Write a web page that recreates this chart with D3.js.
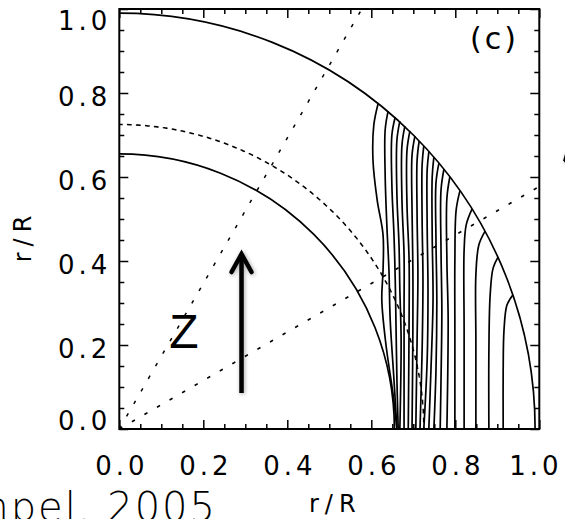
<!DOCTYPE html>
<html><head><meta charset="utf-8">
<script src="https://cdn.jsdelivr.net/npm/d3@7"></script>
<style>html,body{margin:0;padding:0;background:#fff;overflow:hidden}svg{display:block}</style>
</head><body>
<script>
// ---- data ----
const majorTicks = [0, 0.2, 0.4, 0.6, 0.8, 1.0];
const tickLabels = ["0.0", "0.2", "0.4", "0.6", "0.8", "1.0"];
const minorTicks = [0.05,0.1,0.15,0.25,0.3,0.35,0.45,0.5,0.55,0.65,0.7,0.75,0.85,0.9,0.95];
const solidRadii = [0.655, 0.99];
const dashedRadii = [0.725];
const rayAnglesDeg = [30, 60];
const contour01 = [[0.616,0.774],[0.606,0.724],[0.604,0.640],[0.614,0.545],[0.628,0.462],[0.628,0.379],[0.625,0.307],[0.635,0.200],[0.652,0.081],[0.661,0]];
const contour02 = [[0.640,0.757],[0.633,0.712],[0.633,0.605],[0.637,0.486],[0.642,0.379],[0.645,0.260],[0.654,0.117],[0.661,0]];
const contour03 = [[0.657,0.743],[0.649,0.700],[0.649,0.581],[0.654,0.462],[0.657,0.355],[0.659,0.236],[0.661,0.117],[0.664,0]];
const contour04 = [[0.668,0.733],[0.661,0.688],[0.661,0.557],[0.666,0.438],[0.668,0.331],[0.671,0.212],[0.668,0]];
const contour05 = [[0.680,0.721],[0.673,0.676],[0.673,0.545],[0.678,0.414],[0.678,0.283],[0.678,0]];
const contour06 = [[0.692,0.710],[0.685,0.664],[0.685,0.533],[0.690,0.402],[0.690,0.260],[0.688,0]];
const contour07 = [[0.704,0.698],[0.697,0.652],[0.697,0.521],[0.699,0.379],[0.699,0.236],[0.697,0]];
const contour08 = [[0.714,0.686],[0.709,0.640],[0.709,0.510],[0.711,0.367],[0.709,0.212],[0.706,0]];
const contour09 = [[0.725,0.674],[0.721,0.629],[0.721,0.498],[0.723,0.355],[0.721,0.188],[0.716,0]];
const contour10 = [[0.737,0.660],[0.733,0.617],[0.733,0.486],[0.735,0.331],[0.733,0.164],[0.725,0]];
const contour11 = [[0.749,0.648],[0.745,0.600],[0.745,0.462],[0.747,0.307],[0.742,0.140],[0.737,0]];
const contour12 = [[0.761,0.633],[0.754,0.586],[0.754,0.450],[0.756,0.307],[0.754,0.140],[0.749,0]];
const contour13 = [[0.773,0.619],[0.766,0.569],[0.766,0.426],[0.768,0.283],[0.766,0.117],[0.764,0]];
const contour14 = [[0.787,0.600],[0.780,0.550],[0.780,0.402],[0.783,0.260],[0.780,0]];
const contour15 = [[0.811,0.567],[0.802,0.521],[0.799,0.402],[0.799,0.236],[0.799,0]];
const contour16 = [[0.840,0.524],[0.826,0.486],[0.821,0.426],[0.821,0.236],[0.821,0]];
const contour17 = [[0.871,0.471],[0.856,0.438],[0.849,0.367],[0.849,0.212],[0.849,0]];
const contour18 = [[0.902,0.410],[0.890,0.383],[0.883,0.319],[0.880,0.188],[0.880,0]];
const contour19 = [[0.937,0.319],[0.923,0.295],[0.916,0.236],[0.914,0.140],[0.914,0]];
const contours = [contour01,contour02,contour03,contour04,contour05,contour06,contour07,contour08,contour09,contour10,
                  contour11,contour12,contour13,contour14,contour15,contour16,contour17,contour18,contour19];
const arrowZ = {x: 0.291, y0: 0.086, y1: 0.419};
const labelZ = {text: "Z", x: 0.119, y: 0.193};
const panelLabel = {text: "(c)", x: 0.835, y: 0.905};
const axisTitle = "r/R";
const citation = "Rempel, 2005";
const edgeArrowTip = [[1.057, 0.640], [1.064, 0.665], [1.064, 0.630]];

// ---- layout ----
const W = 565, H = 519;
const x = d3.scaleLinear().domain([0, 1]).range([119.3, 539.3]);
const y = d3.scaleLinear().domain([0, 1]).range([429, 9]);
const FONT = "'DejaVu Sans', 'Liberation Sans', sans-serif";

const svg = d3.select("body").append("svg").attr("width", W).attr("height", H);
const defs = svg.append("defs");
defs.append("clipPath").attr("id", "frameClip").append("rect")
  .attr("x", x(0)).attr("y", y(1)).attr("width", x(1) - x(0)).attr("height", y(0) - y(1));
const f = defs.append("filter").attr("id", "shadow").attr("x", "-50%").attr("y", "-20%").attr("width", "200%").attr("height", "140%");
f.append("feGaussianBlur").attr("in", "SourceAlpha").attr("stdDeviation", 2).attr("result", "b");
f.append("feOffset").attr("in", "b").attr("dx", 1).attr("dy", 1).attr("result", "o");
f.append("feComponentTransfer").attr("in", "o").attr("result", "s").append("feFuncA").attr("type", "linear").attr("slope", 0.35);
const fm = f.append("feMerge");
fm.append("feMergeNode").attr("in", "s");
fm.append("feMergeNode").attr("in", "SourceGraphic");

const plot = svg.append("g").attr("clip-path", "url(#frameClip)");

// rays
rayAnglesDeg.forEach(a => {
  const t = a * Math.PI / 180;
  plot.append("line")
    .attr("x1", x(0)).attr("y1", y(0))
    .attr("x2", x(1.5 * Math.cos(t))).attr("y2", y(1.5 * Math.sin(t)))
    .attr("stroke", "#000").attr("stroke-width", 1.5).attr("stroke-dasharray", "3.5,11");
});

// arcs
const arcGen = d3.arc().startAngle(0).endAngle(Math.PI / 2);
solidRadii.forEach(r => {
  plot.append("path").attr("transform", `translate(${x(0)},${y(0)})`)
    .attr("d", arcGen({innerRadius: x(r) - x(0), outerRadius: x(r) - x(0)}))
    .attr("fill", "none").attr("stroke", "#000").attr("stroke-width", 1.7);
});
dashedRadii.forEach(r => {
  plot.append("path").attr("transform", `translate(${x(0)},${y(0)})`)
    .attr("d", arcGen({innerRadius: x(r) - x(0), outerRadius: x(r) - x(0)}))
    .attr("fill", "none").attr("stroke", "#000").attr("stroke-width", 1.5).attr("stroke-dasharray", "3.5,5.5");
});

// contours
const lineGen = d3.line().x(d => x(d[0])).y(d => y(d[1])).curve(d3.curveCatmullRom.alpha(0.5));
plot.selectAll("path.contour").data(contours).join("path").attr("class", "contour")
  .attr("d", lineGen).attr("fill", "none").attr("stroke", "#000").attr("stroke-width", 1.7);

// arrow
const ag = svg.append("g").attr("filter", "url(#shadow)");
ag.append("line").attr("x1", x(arrowZ.x)).attr("y1", y(arrowZ.y0)).attr("x2", x(arrowZ.x)).attr("y2", y(arrowZ.y1) + 2)
  .attr("stroke", "#000").attr("stroke-width", 4.5);
ag.append("path")
  .attr("d", `M${x(arrowZ.x) - 10},${y(arrowZ.y1) + 19}L${x(arrowZ.x)},${y(arrowZ.y1) + 1}L${x(arrowZ.x) + 10},${y(arrowZ.y1) + 19}`)
  .attr("fill", "none").attr("stroke", "#000").attr("stroke-width", 4.5).attr("stroke-linecap", "round").attr("stroke-linejoin", "miter");

// Z label
svg.append("text").attr("x", x(labelZ.x)).attr("y", y(labelZ.y)).text(labelZ.text)
  .attr("font-family", "'Liberation Sans', sans-serif").attr("font-size", 48).attr("fill", "#000");

// panel label
svg.append("text").attr("x", x(panelLabel.x)).attr("y", y(panelLabel.y)).text(panelLabel.text)
  .attr("font-family", FONT).attr("font-size", 30).attr("letter-spacing", 3).attr("fill", "#000");

// axes
function styleAxis(g) {
  g.select(".domain").remove();
  g.selectAll(".tick line").attr("stroke", "#000").attr("stroke-width", 1.5);
}
const LS = 4;
const axB = svg.append("g").attr("transform", `translate(0,${y(0)})`)
  .call(d3.axisBottom(x).tickValues(majorTicks).tickSize(-9).tickSizeOuter(0).tickFormat((d, i) => tickLabels[i]));
styleAxis(axB);
axB.selectAll(".tick text").attr("y", 46).attr("dy", null)
  .attr("dx", (d, i) => LS / 2 + (i === majorTicks.length - 1 ? -6 : 0))
  .attr("font-family", FONT).attr("font-size", 26).attr("letter-spacing", LS).attr("fill", "#000");
svg.append("g").attr("transform", `translate(0,${y(0)})`)
  .call(d3.axisBottom(x).tickValues(minorTicks).tickSize(-5).tickSizeOuter(0).tickFormat(""))
  .call(styleAxis);

const axL = svg.append("g").attr("transform", `translate(${x(0)},0)`)
  .call(d3.axisLeft(y).tickValues(majorTicks).tickSize(-9).tickSizeOuter(0).tickFormat((d, i) => tickLabels[i]));
styleAxis(axL);
axL.selectAll(".tick text").attr("x", -12 + LS).attr("dy", (d, i) => i === 0 ? 0 : (i === majorTicks.length - 1 ? 20.5 : 12.5))
  .attr("font-family", FONT).attr("font-size", 26).attr("letter-spacing", LS).attr("fill", "#000")
  .attr("text-anchor", "end");
svg.append("g").attr("transform", `translate(${x(0)},0)`)
  .call(d3.axisLeft(y).tickValues(minorTicks).tickSize(-5).tickSizeOuter(0).tickFormat(""))
  .call(styleAxis);

const axT = svg.append("g").attr("transform", `translate(0,${y(1)})`)
  .call(d3.axisTop(x).tickValues(majorTicks).tickSize(-9).tickSizeOuter(0).tickFormat(""));
styleAxis(axT);
svg.append("g").attr("transform", `translate(0,${y(1)})`)
  .call(d3.axisTop(x).tickValues(minorTicks).tickSize(-5).tickSizeOuter(0).tickFormat("")).call(styleAxis);
const axR = svg.append("g").attr("transform", `translate(${x(1)},0)`)
  .call(d3.axisRight(y).tickValues(majorTicks).tickSize(-9).tickSizeOuter(0).tickFormat(""));
styleAxis(axR);
svg.append("g").attr("transform", `translate(${x(1)},0)`)
  .call(d3.axisRight(y).tickValues(minorTicks).tickSize(-5).tickSizeOuter(0).tickFormat("")).call(styleAxis);

// frame
svg.append("rect").attr("x", x(0)).attr("y", y(1)).attr("width", x(1) - x(0)).attr("height", y(0) - y(1))
  .attr("fill", "none").attr("stroke", "#000").attr("stroke-width", 2);

// axis titles
svg.append("text").attr("x", x(0.5) + 3 + 3).attr("y", 512).attr("text-anchor", "middle").text(axisTitle)
  .attr("font-family", FONT).attr("font-size", 24).attr("letter-spacing", 6).attr("fill", "#000");
svg.append("text").attr("transform", `translate(31,${y(0.5) + 17}) rotate(-90)`).attr("text-anchor", "middle").text(axisTitle)
  .attr("font-family", FONT).attr("font-size", 24).attr("letter-spacing", 6).attr("fill", "#000");

// citation (clipped at left edge as in the source)
svg.append("text").attr("x", 217).attr("y", 521).attr("text-anchor", "end").text(citation)
  .attr("font-family", FONT).attr("font-weight", 200).attr("font-size", 40).attr("letter-spacing", 2).attr("fill", "#000");

// edge arrow fragment
svg.append("path").attr("d", "M" + edgeArrowTip.map(p => [x(p[0]), y(p[1])].join(",")).join("L") + "Z")
  .attr("fill", "#000").attr("filter", "url(#shadow)");
</script>
</body></html>
